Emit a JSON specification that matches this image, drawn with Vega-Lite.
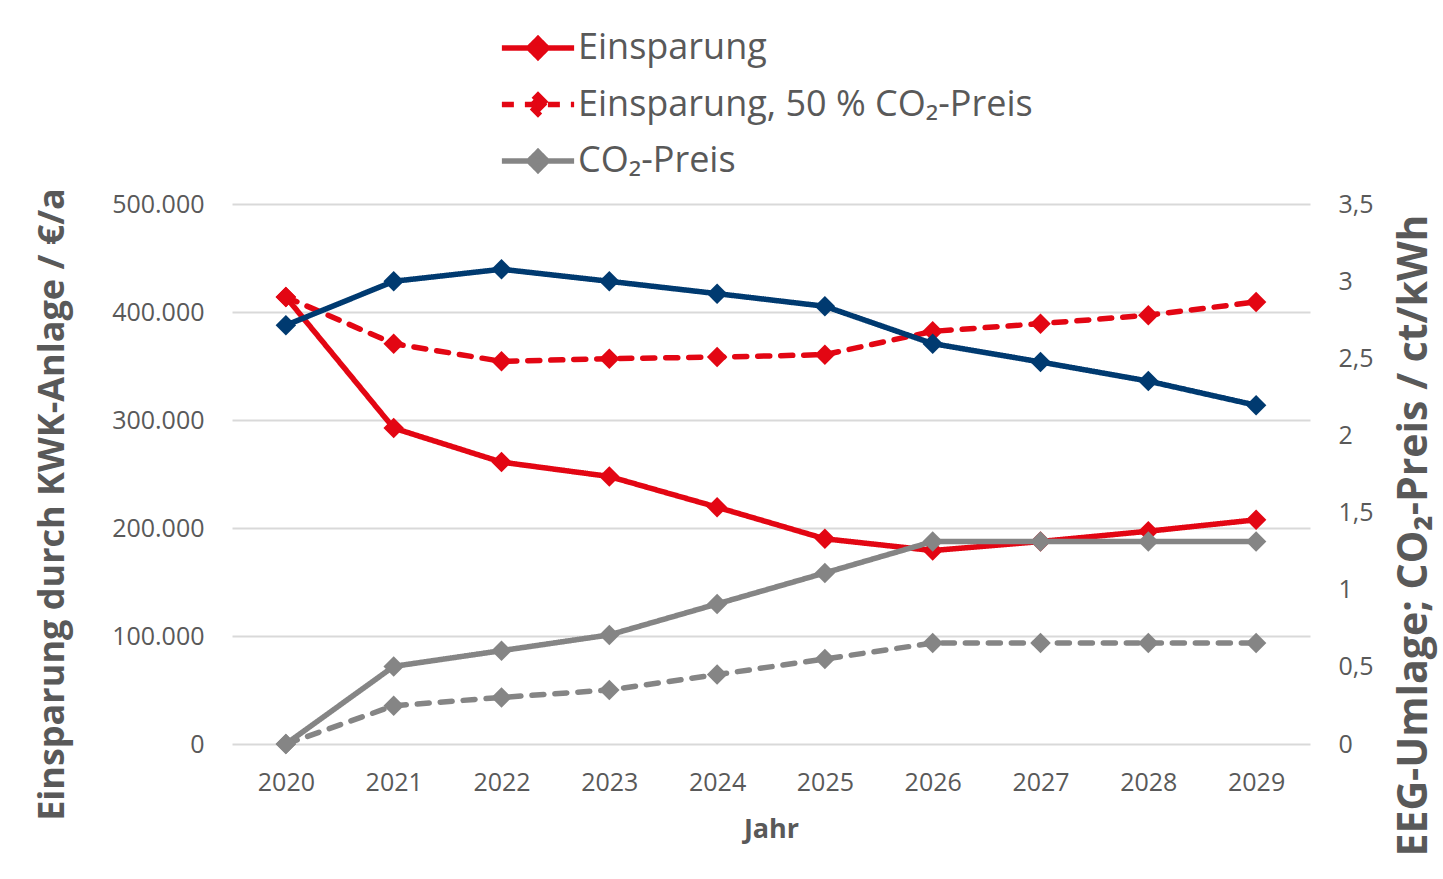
{
  "$schema": "https://vega.github.io/schema/vega-lite/v6.json",
  "autosize": {"type": "none"},
  "padding": {"left": 232, "top": 204, "right": 133, "bottom": 135},
  "width": 1078,
  "height": 540,
  "background": "white",
  "config": {
    "font": "Open Sans",
    "view": {"stroke": null},
    "locale": {"number": {"decimal": ",", "thousands": ".", "grouping": [3], "currency": ["", " €"]}}
  },
  "data": {
    "values": [
      {"Jahr": "2020", "serie": "Einsparung", "achse": "links", "wert": 413900},
      {"Jahr": "2021", "serie": "Einsparung", "achse": "links", "wert": 292500},
      {"Jahr": "2022", "serie": "Einsparung", "achse": "links", "wert": 261000},
      {"Jahr": "2023", "serie": "Einsparung", "achse": "links", "wert": 247700},
      {"Jahr": "2024", "serie": "Einsparung", "achse": "links", "wert": 219300},
      {"Jahr": "2025", "serie": "Einsparung", "achse": "links", "wert": 190000},
      {"Jahr": "2026", "serie": "Einsparung", "achse": "links", "wert": 179100},
      {"Jahr": "2027", "serie": "Einsparung", "achse": "links", "wert": 187500},
      {"Jahr": "2028", "serie": "Einsparung", "achse": "links", "wert": 197000},
      {"Jahr": "2029", "serie": "Einsparung", "achse": "links", "wert": 207600},
      {"Jahr": "2020", "serie": "Einsparung, 50 % CO₂-Preis", "achse": "links", "wert": 413900},
      {"Jahr": "2021", "serie": "Einsparung, 50 % CO₂-Preis", "achse": "links", "wert": 370700},
      {"Jahr": "2022", "serie": "Einsparung, 50 % CO₂-Preis", "achse": "links", "wert": 354300},
      {"Jahr": "2023", "serie": "Einsparung, 50 % CO₂-Preis", "achse": "links", "wert": 356800},
      {"Jahr": "2024", "serie": "Einsparung, 50 % CO₂-Preis", "achse": "links", "wert": 358300},
      {"Jahr": "2025", "serie": "Einsparung, 50 % CO₂-Preis", "achse": "links", "wert": 360500},
      {"Jahr": "2026", "serie": "Einsparung, 50 % CO₂-Preis", "achse": "links", "wert": 382100},
      {"Jahr": "2027", "serie": "Einsparung, 50 % CO₂-Preis", "achse": "links", "wert": 389200},
      {"Jahr": "2028", "serie": "Einsparung, 50 % CO₂-Preis", "achse": "links", "wert": 397000},
      {"Jahr": "2029", "serie": "Einsparung, 50 % CO₂-Preis", "achse": "links", "wert": 409300},
      {"Jahr": "2020", "serie": "EEG-Umlage", "achse": "rechts", "wert": 2.714},
      {"Jahr": "2021", "serie": "EEG-Umlage", "achse": "rechts", "wert": 2.999},
      {"Jahr": "2022", "serie": "EEG-Umlage", "achse": "rechts", "wert": 3.077},
      {"Jahr": "2023", "serie": "EEG-Umlage", "achse": "rechts", "wert": 2.999},
      {"Jahr": "2024", "serie": "EEG-Umlage", "achse": "rechts", "wert": 2.919},
      {"Jahr": "2025", "serie": "EEG-Umlage", "achse": "rechts", "wert": 2.837},
      {"Jahr": "2026", "serie": "EEG-Umlage", "achse": "rechts", "wert": 2.595},
      {"Jahr": "2027", "serie": "EEG-Umlage", "achse": "rechts", "wert": 2.476},
      {"Jahr": "2028", "serie": "EEG-Umlage", "achse": "rechts", "wert": 2.352},
      {"Jahr": "2029", "serie": "EEG-Umlage", "achse": "rechts", "wert": 2.195},
      {"Jahr": "2020", "serie": "CO₂-Preis", "achse": "rechts", "wert": 0},
      {"Jahr": "2021", "serie": "CO₂-Preis", "achse": "rechts", "wert": 0.503},
      {"Jahr": "2022", "serie": "CO₂-Preis", "achse": "rechts", "wert": 0.605},
      {"Jahr": "2023", "serie": "CO₂-Preis", "achse": "rechts", "wert": 0.707},
      {"Jahr": "2024", "serie": "CO₂-Preis", "achse": "rechts", "wert": 0.908},
      {"Jahr": "2025", "serie": "CO₂-Preis", "achse": "rechts", "wert": 1.109},
      {"Jahr": "2026", "serie": "CO₂-Preis", "achse": "rechts", "wert": 1.312},
      {"Jahr": "2027", "serie": "CO₂-Preis", "achse": "rechts", "wert": 1.312},
      {"Jahr": "2028", "serie": "CO₂-Preis", "achse": "rechts", "wert": 1.312},
      {"Jahr": "2029", "serie": "CO₂-Preis", "achse": "rechts", "wert": 1.312},
      {"Jahr": "2020", "serie": "CO₂-Preis, 50 %", "achse": "rechts", "wert": 0},
      {"Jahr": "2021", "serie": "CO₂-Preis, 50 %", "achse": "rechts", "wert": 0.248},
      {"Jahr": "2022", "serie": "CO₂-Preis, 50 %", "achse": "rechts", "wert": 0.302},
      {"Jahr": "2023", "serie": "CO₂-Preis, 50 %", "achse": "rechts", "wert": 0.350},
      {"Jahr": "2024", "serie": "CO₂-Preis, 50 %", "achse": "rechts", "wert": 0.450},
      {"Jahr": "2025", "serie": "CO₂-Preis, 50 %", "achse": "rechts", "wert": 0.551},
      {"Jahr": "2026", "serie": "CO₂-Preis, 50 %", "achse": "rechts", "wert": 0.654},
      {"Jahr": "2027", "serie": "CO₂-Preis, 50 %", "achse": "rechts", "wert": 0.654},
      {"Jahr": "2028", "serie": "CO₂-Preis, 50 %", "achse": "rechts", "wert": 0.654},
      {"Jahr": "2029", "serie": "CO₂-Preis, 50 %", "achse": "rechts", "wert": 0.654}
    ]
  },
  "encoding": {
    "x": {
      "field": "Jahr", "type": "ordinal",
      "scale": {"type": "point", "padding": 0.5},
      "axis": {
        "title": "Jahr", "titleFontSize": 27, "titleFontWeight": "bold", "titleColor": "#595959",
        "titleBaseline": "alphabetic", "titleY": 93,
        "labelFontSize": 25, "labelColor": "#595959", "labelPadding": 26, "labelAngle": 0,
        "ticks": false, "domain": false, "grid": false
      }
    },
    "color": {
      "field": "serie", "type": "nominal",
      "scale": {
        "domain": ["Einsparung", "Einsparung, 50 % CO₂-Preis", "CO₂-Preis", "CO₂-Preis, 50 %", "EEG-Umlage"],
        "range": ["#E30613", "#E30613", "#858585", "#858585", "#003A70"]
      },
      "legend": {
        "values": ["Einsparung", "Einsparung, 50 % CO₂-Preis", "CO₂-Preis"],
        "title": null,
        "orient": "none",
        "legendX": 275,
        "legendY": -187,
        "padding": 0,
        "rowPadding": 4.5,
        "symbolType": "M-1.29,0H1.29M0,-0.33L0.33,0L0,0.33L-0.33,0Z",
        "symbolSize": 3136,
        "symbolStrokeWidth": 5.5,
        "symbolOffset": 0,
        "labelOffset": 9,
        "labelFontSize": 36,
        "labelColor": "#595959",
        "labelLimit": 800,
        "encode": {"symbols": {"update": {"fill": {"scale": "color", "field": "value"}, "opacity": {"value": 1}}}}
      }
    },
    "strokeDash": {
      "field": "serie", "type": "nominal",
      "scale": {
        "domain": ["Einsparung", "Einsparung, 50 % CO₂-Preis", "CO₂-Preis", "CO₂-Preis, 50 %", "EEG-Umlage"],
        "range": [[1, 0], [12, 11], [1, 0], [12, 11], [1, 0]]
      },
      "legend": {
        "values": ["Einsparung", "Einsparung, 50 % CO₂-Preis", "CO₂-Preis"],
        "title": null,
        "orient": "none",
        "legendX": 275,
        "legendY": -187,
        "padding": 0,
        "rowPadding": 4.5,
        "symbolType": "M-1.29,0H1.29M0,-0.33L0.33,0L0,0.33L-0.33,0Z",
        "symbolSize": 3136,
        "symbolStrokeWidth": 5.5,
        "symbolOffset": 0,
        "labelOffset": 9,
        "labelFontSize": 36,
        "labelColor": "#595959",
        "labelLimit": 800
      }
    }
  },
  "layer": [
    {
      "transform": [{"filter": "datum.achse === 'links'"}],
      "mark": {"type": "line", "strokeWidth": 5.5, "strokeCap": "round", "strokeJoin": "round", "point": {"shape": "diamond", "size": 420, "filled": true, "opacity": 1}},
      "encoding": {
        "y": {
          "field": "wert", "type": "quantitative",
          "scale": {"domain": [0, 500000], "nice": false, "zero": true},
          "axis": {
            "title": "Einsparung durch KWK-Anlage / €/a",
            "titleFontSize": 36, "titleFontWeight": "bold", "titleColor": "#595959",
            "titleX": -180, "titleY": 300, "titleBaseline": "middle", "titleAngle": -90, "titleAlign": "center",
            "values": [0, 100000, 200000, 300000, 400000, 500000],
            "format": ",.0f",
            "labelFontSize": 25, "labelColor": "#595959", "labelPadding": 28,
            "ticks": false, "domain": false,
            "grid": true, "gridColor": "#d9d9d9", "gridWidth": 2
          }
        }
      }
    },
    {
      "transform": [{"filter": "datum.achse === 'rechts'"}],
      "mark": {"type": "line", "strokeWidth": 5.5, "strokeCap": "round", "strokeJoin": "round", "point": {"shape": "diamond", "size": 420, "filled": true, "opacity": 1}},
      "encoding": {
        "y": {
          "field": "wert", "type": "quantitative",
          "scale": {"domain": [0, 3.5], "nice": false, "zero": true},
          "axis": {
            "orient": "right",
            "title": "EEG-Umlage; CO₂-Preis / ct/kWh",
            "titleFontSize": 41, "titleFontWeight": "bold", "titleColor": "#595959",
            "titleX": 104, "titleY": 331, "titleBaseline": "middle", "titleAngle": -90, "titleAlign": "center",
            "values": [0, 0.5, 1, 1.5, 2, 2.5, 3, 3.5],
            "format": ".1~f",
            "labelFontSize": 25, "labelColor": "#595959", "labelPadding": 28,
            "ticks": false, "domain": false, "grid": false
          }
        }
      }
    }
  ],
  "resolve": {"scale": {"y": "independent"}, "axis": {"y": "independent"}}
}
